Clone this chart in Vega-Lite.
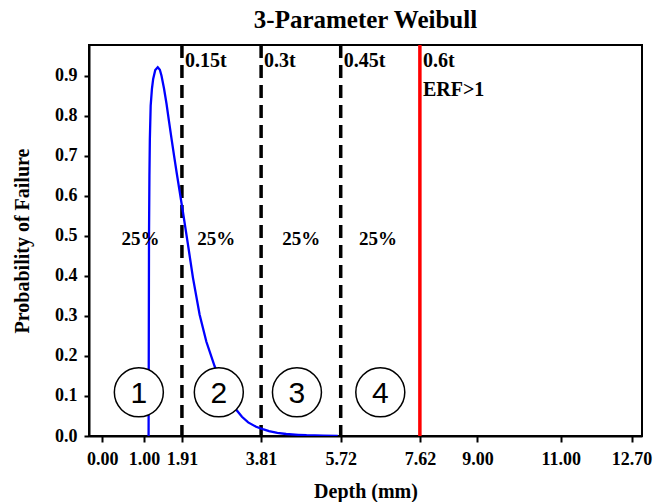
{
  "$schema": "https://vega.github.io/schema/vega-lite/v6.json",
  "width": 553,
  "height": 391,
  "autosize": {"type": "none"},
  "padding": {"left": 89, "top": 45, "right": 22, "bottom": 66},
  "background": "white",
  "title": {
    "text": "3-Parameter Weibull",
    "font": "Liberation Serif",
    "fontSize": 25,
    "fontWeight": "bold",
    "color": "black",
    "anchor": "middle",
    "baseline": "bottom",
    "offset": 12,
    "dy": 27
  },
  "config": {
    "view": {"stroke": "black", "strokeWidth": 2},
    "axis": {
      "grid": false,
      "domainColor": "black",
      "domainWidth": 2,
      "tickColor": "black",
      "tickWidth": 2,
      "labelColor": "black",
      "labelFont": "Liberation Serif",
      "labelFontWeight": "bold",
      "labelFontSize": 18,
      "titleColor": "black",
      "titleFont": "Liberation Serif",
      "titleFontWeight": "bold",
      "titleFontSize": 20,
      "labelOverlap": false,
      "labelFlush": false
    }
  },
  "datasets": {
    "curve": [
      {"x": 1.11, "y": 0.0},
      {"x": 1.115, "y": 0.25},
      {"x": 1.12, "y": 0.5},
      {"x": 1.13, "y": 0.65},
      {"x": 1.14, "y": 0.74},
      {"x": 1.16, "y": 0.825},
      {"x": 1.19, "y": 0.867},
      {"x": 1.22, "y": 0.892},
      {"x": 1.27, "y": 0.914},
      {"x": 1.33, "y": 0.921},
      {"x": 1.38, "y": 0.915},
      {"x": 1.42, "y": 0.9},
      {"x": 1.48, "y": 0.868},
      {"x": 1.54, "y": 0.83},
      {"x": 1.6, "y": 0.786},
      {"x": 1.66, "y": 0.743},
      {"x": 1.72, "y": 0.701},
      {"x": 1.78, "y": 0.66},
      {"x": 1.855, "y": 0.611},
      {"x": 1.935, "y": 0.559},
      {"x": 2.055, "y": 0.478},
      {"x": 2.175, "y": 0.395},
      {"x": 2.335, "y": 0.303},
      {"x": 2.495, "y": 0.236},
      {"x": 2.695, "y": 0.174},
      {"x": 2.85, "y": 0.138},
      {"x": 3.0, "y": 0.105},
      {"x": 3.1, "y": 0.085},
      {"x": 3.21, "y": 0.066},
      {"x": 3.35, "y": 0.048},
      {"x": 3.5, "y": 0.034},
      {"x": 3.69, "y": 0.023},
      {"x": 3.85, "y": 0.017},
      {"x": 4.0, "y": 0.012},
      {"x": 4.2, "y": 0.008},
      {"x": 4.41, "y": 0.005},
      {"x": 4.7, "y": 0.003},
      {"x": 4.9, "y": 0.002},
      {"x": 5.3, "y": 0.001},
      {"x": 5.65, "y": 0.0}
    ],
    "dash": [{"x": 1.91}, {"x": 3.81}, {"x": 5.72}],
    "red": [{"x": 7.62}],
    "circles": [
      {"x": 0.876, "y": 0.109, "label": "1"},
      {"x": 2.795, "y": 0.109, "label": "2"},
      {"x": 4.67, "y": 0.109, "label": "3"},
      {"x": 6.67, "y": 0.109, "label": "4"}
    ],
    "pct": [
      {"x": 0.914, "y": 0.492, "label": "25%"},
      {"x": 2.735, "y": 0.492, "label": "25%"},
      {"x": 4.775, "y": 0.492, "label": "25%"},
      {"x": 6.612, "y": 0.492, "label": "25%"}
    ],
    "tops": [
      {"x": 1.91, "y": 0.937, "label": "0.15t"},
      {"x": 3.81, "y": 0.937, "label": "0.3t"},
      {"x": 5.72, "y": 0.937, "label": "0.45t"},
      {"x": 7.62, "y": 0.937, "label": "0.6t"},
      {"x": 7.62, "y": 0.865, "label": "ERF>1"}
    ]
  },
  "encoding": {
    "x": {
      "field": "x", "type": "quantitative",
      "scale": {"domain": [-0.32, 12.95], "nice": false, "zero": false},
      "axis": {
        "title": "Depth (mm)",
        "values": [0, 1, 1.91, 3.81, 5.72, 7.62, 9, 11, 12.7],
        "format": ".2f",
        "tickSize": 6,
        "labelPadding": 8,
        "titlePadding": 13
      }
    }
  },
  "layer": [
    {
      "data": {"name": "dash"},
      "mark": {"type": "rule", "color": "black", "strokeWidth": 3.5, "strokeDash": [13, 7]},
      "encoding": {}
    },
    {
      "data": {"name": "red"},
      "mark": {"type": "rule", "color": "#ff0000", "strokeWidth": 3.5},
      "encoding": {}
    },
    {
      "layer": [
        {
          "data": {"name": "curve"},
          "mark": {"type": "line", "color": "#0000ff", "strokeWidth": 2.3, "clip": true},
          "encoding": {"order": {"field": "x", "type": "quantitative"}}
        },
        {
          "data": {"name": "circles"},
          "mark": {"type": "point", "shape": "circle", "filled": false, "fill": "white", "fillOpacity": 1, "stroke": "black", "strokeWidth": 1.5, "opacity": 1, "size": 2400}
        },
        {
          "data": {"name": "circles"},
          "mark": {"type": "text", "font": "Liberation Sans", "fontSize": 30, "color": "black", "align": "center", "baseline": "middle", "dy": 2},
          "encoding": {"text": {"field": "label"}}
        },
        {
          "data": {"name": "pct"},
          "mark": {"type": "text", "font": "Liberation Serif", "fontWeight": "bold", "fontSize": 19, "color": "black", "align": "center", "baseline": "middle"},
          "encoding": {"text": {"field": "label"}}
        },
        {
          "data": {"name": "tops"},
          "mark": {"type": "text", "font": "Liberation Serif", "fontWeight": "bold", "fontSize": 20, "color": "black", "align": "left", "baseline": "middle", "dx": 3},
          "encoding": {"text": {"field": "label"}}
        }
      ],
      "encoding": {
        "y": {
          "field": "y", "type": "quantitative",
          "scale": {"domain": [0, 0.9767], "nice": false, "zero": false},
          "axis": {
            "title": "Probability of Failure",
            "values": [0, 0.1, 0.2, 0.3, 0.4, 0.5, 0.6, 0.7, 0.8, 0.9],
            "format": ".1f",
            "tickSize": 5,
            "labelPadding": 7,
            "titlePadding": 22
          }
        }
      }
    }
  ]
}
